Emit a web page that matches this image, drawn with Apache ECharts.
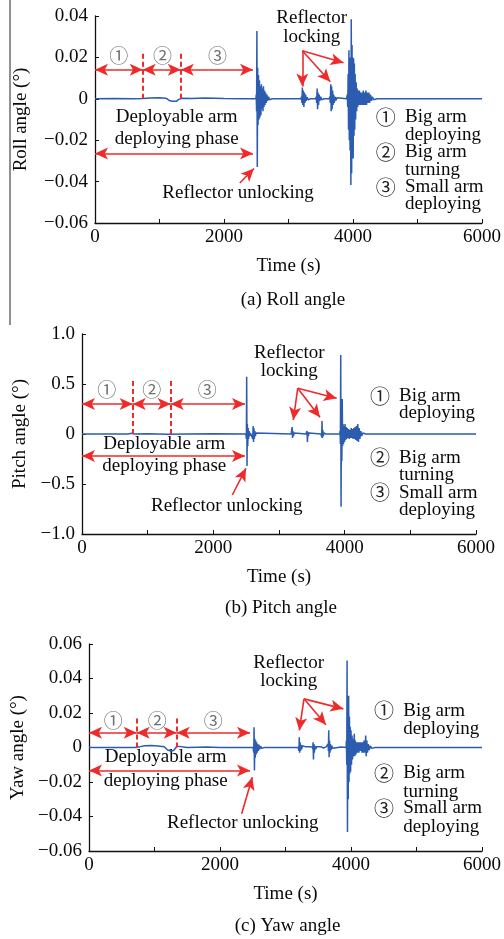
<!DOCTYPE html>
<html>
<head>
<meta charset="utf-8">
<script src="https://cdn.jsdelivr.net/npm/echarts@6/dist/echarts.min.js"></script>
<style>
  html, body { margin: 0; padding: 0; background: #fff; }
  #result { width: 504px; height: 939px; }
</style>
</head>
<body>
<div id="result"></div>
<script>
var myChart = echarts.init(document.getElementById('result'));

var FONT = '"Liberation Serif", "Times New Roman", serif';
var CIRCLE_FONT = '"Noto Sans CJK SC", "DejaVu Sans", sans-serif';
var BLUE = '#2c5cb0';
var RED = '#ee2a2a';

var timeTicks = [0, 2000, 4000, 6000];

// Roll angle (°) vs time (s)
var rollData = [
	[0, 0], [300, 0.0001], [600, 0], [750, 0.0001], [850, 0.0004], [1000, 0.0005], [1100, 0.0003],
	[1150, -0.0008], [1200, -0.0012], [1260, -0.0012], [1300, -0.0003], [1350, 0.0003], [1500, 0.0002],
	[1700, 0.0004], [1850, 0.0003], [2000, 0.0001], [2300, 0], [2495, 0],
	[2500, 0.002], [2505, -0.006], [2510, 0.0327], [2516, -0.033], [2522, 0.015], [2528, -0.0127],
	[2535, 0.0115], [2542, -0.01], [2549, 0.009], [2556, -0.009], [2564, 0.006], [2572, -0.008],
	[2580, 0.007], [2588, -0.005], [2596, 0.005], [2604, -0.006], [2612, 0.006], [2620, -0.004],
	[2628, 0.004], [2636, -0.003], [2645, 0.003], [2655, -0.002], [2665, 0.002], [2677, -0.001],
	[2690, 0.001], [2705, -0.0005], [2722, 0.0003], [2745, 0], [3000, 0], [3195, 0],
	[3200, 0.001], [3208, -0.002], [3215, 0.0055], [3222, -0.003], [3230, 0.004], [3238, -0.004],
	[3246, 0.003], [3255, -0.002], [3265, 0.002], [3275, -0.001], [3290, 0.0008], [3305, -0.0005],
	[3320, 0.0003], [3340, 0], [3420, 0],
	[3430, 0.001], [3437, -0.002], [3444, 0.005], [3451, -0.005], [3458, 0.003], [3466, -0.003],
	[3475, 0.002], [3485, -0.001], [3500, 0.001], [3515, -0.0005], [3530, 0.0003], [3550, 0], [3630, 0],
	[3640, 0.001], [3648, -0.002], [3655, 0.007], [3662, -0.006], [3669, 0.006], [3676, -0.005],
	[3684, 0.004], [3692, -0.003], [3700, 0.002], [3710, -0.002], [3722, 0.001], [3735, -0.0008],
	[3750, 0.0005], [3770, 0], [3900, 0],
	[3912, 0.002], [3918, -0.004], [3925, 0.012], [3931, -0.015], [3937, 0.0235], [3943, -0.02],
	[3949, 0.018], [3955, -0.025], [3961, 0.02], [3967, -0.0417], [3973, 0.0384], [3979, -0.036],
	[3985, 0.026], [3991, -0.028], [3997, 0.02], [4003, -0.0288], [4009, 0.0196], [4015, -0.018],
	[4021, 0.017], [4027, -0.015], [4033, 0.012], [4041, -0.01], [4049, 0.008], [4057, -0.006],
	[4065, 0.005], [4073, -0.004], [4081, 0.004], [4090, -0.003], [4100, 0.004], [4110, -0.003],
	[4120, 0.003], [4130, -0.003], [4140, 0.003], [4150, -0.003], [4160, 0.004], [4170, -0.003],
	[4180, 0.003], [4190, -0.003], [4200, 0.004], [4210, -0.003], [4220, 0.003], [4232, -0.002],
	[4245, 0.003], [4258, -0.002], [4270, 0.002], [4285, -0.001], [4300, 0.001], [4320, -0.0005],
	[4345, 0.0003], [4370, 0], [6000, 0]
];

// Pitch angle (°) vs time (s)
var pitchData = [
	[0, 0], [700, 0], [760, 0.008], [800, 0], [1000, 0.003], [1300, -0.003], [1600, 0], [2000, 0.002], [2495, 0],
	[2499, 0.02], [2503, -0.05], [2508, 0.573], [2513, -0.32], [2518, 0.1], [2524, -0.12], [2530, 0.06],
	[2537, -0.05], [2545, 0.03], [2553, -0.02], [2565, 0.01], [2580, 0], [2594, 0.02], [2600, -0.05],
	[2606, 0.08], [2612, -0.08], [2618, 0.06], [2624, -0.05], [2632, 0.03], [2640, -0.02], [2650, 0.01],
	[2665, -0.005], [2680, 0], [3185, 0],
	[3190, 0.01], [3195, -0.02], [3200, 0.07], [3206, -0.04], [3212, 0.03], [3220, -0.02], [3230, 0.01],
	[3245, -0.005], [3260, 0], [3410, 0],
	[3416, 0.01], [3421, -0.02], [3427, 0.03], [3433, -0.08], [3439, 0.02], [3446, -0.02], [3455, 0.01],
	[3470, -0.005], [3485, 0], [3640, 0],
	[3645, 0.01], [3650, -0.03], [3655, 0.13], [3661, -0.04], [3667, 0.04], [3674, -0.02], [3683, 0.01],
	[3697, -0.005], [3715, 0], [3925, 0],
	[3930, 0.03], [3935, -0.1], [3940, 0.79], [3945, -0.727], [3951, 0.2], [3957, -0.27], [3963, 0.35],
	[3969, -0.12], [3975, 0.1], [3982, -0.1], [3990, 0.08], [3998, -0.08], [4006, 0.1], [4014, -0.06],
	[4022, 0.07], [4030, -0.05], [4040, 0.06], [4050, -0.04], [4060, 0.05], [4070, -0.05], [4080, 0.04],
	[4090, -0.04], [4100, 0.06], [4110, -0.04], [4120, 0.05], [4130, -0.05], [4140, 0.06], [4150, -0.05],
	[4160, 0.07], [4170, -0.06], [4180, 0.08], [4190, -0.07], [4200, 0.1], [4210, -0.08], [4220, 0.06],
	[4232, -0.05], [4245, 0.03], [4260, -0.02], [4275, 0.01], [4295, -0.005], [4320, 0], [6000, 0]
];

// Yaw angle (°) vs time (s)
var yawData = [
	[0, 0], [700, 0], [780, 0.0005], [850, 0.001], [950, 0.0012], [1050, 0.0009], [1150, 0.0004],
	[1200, -0.0015], [1250, -0.002], [1290, -0.0018], [1320, -0.0005], [1340, 0.0008], [1360, 0],
	[1500, 0], [1800, 0.0003], [2000, 0], [2505, 0],
	[2510, 0.001], [2515, -0.003], [2520, 0.0118], [2526, -0.0133], [2532, 0.005], [2538, -0.006],
	[2545, 0.004], [2552, -0.004], [2560, 0.003], [2568, -0.003], [2576, 0.002], [2585, -0.002],
	[2595, 0.0015], [2606, -0.001], [2620, 0.0008], [2635, -0.0005], [2655, 0.0002], [2680, 0], [3195, 0],
	[3200, 0.001], [3205, -0.002], [3210, 0.006], [3216, -0.003], [3222, 0.003], [3229, -0.002],
	[3237, 0.0015], [3246, -0.001], [3258, 0.001], [3275, 0], [3300, 0.0005], [3330, -0.0004],
	[3360, 0.0005], [3390, 0], [3410, 0.0003],
	[3416, -0.001], [3421, 0.003], [3427, -0.007], [3433, 0.002], [3440, -0.003], [3448, 0.001],
	[3460, -0.001], [3475, 0.0005], [3500, 0], [3540, 0.0005], [3580, -0.0003], [3620, 0.0004], [3645, 0],
	[3650, 0.002], [3655, -0.002], [3660, 0.01], [3666, -0.0056], [3672, 0.004], [3679, -0.003],
	[3687, 0.002], [3696, -0.0015], [3708, 0.001], [3725, -0.0005], [3750, 0.0004], [3800, 0],
	[3850, 0.0003], [3925, 0],
	[3930, 0.004], [3935, -0.01], [3940, 0.0504], [3946, -0.049], [3952, 0.02], [3958, -0.03],
	[3964, 0.03], [3970, -0.02], [3976, 0.018], [3982, -0.015], [3988, 0.012], [3994, -0.014],
	[4000, 0.01], [4008, -0.01], [4016, 0.007], [4024, -0.007], [4032, 0.005], [4040, -0.005],
	[4050, 0.008], [4058, -0.005], [4066, 0.004], [4076, -0.004], [4086, 0.003], [4096, -0.003],
	[4108, 0.003], [4120, -0.003], [4132, 0.003], [4144, -0.002], [4156, 0.003], [4168, -0.003],
	[4180, 0.003], [4192, -0.003], [4200, 0.004], [4212, -0.003], [4224, 0.007], [4232, -0.005],
	[4242, 0.004], [4252, -0.003], [4264, 0.002], [4278, -0.0015], [4295, 0.001], [4315, -0.0005],
	[4340, 0.0002], [4370, 0], [6000, 0]
];

var phaseMarks = ['\u2460', '\u2461', '\u2462'];
var legendLines = [['Big arm', 'deploying'], ['Big arm', 'turning'], ['Small arm', 'deploying']];

var panels = [{
	grid: { left: 95, top: 16, width: 392, height: 207 },
	min: -0.06, max: 0.04, interval: 0.02, digits: 2,
	name: 'Roll angle (°)', nameGap: 64, caption: '(a) Roll angle', captionY: 300,
	data: rollData,
	arrowY: 0.014, bounds: [0, 740, 1330, 2450], dashTop: 0.022,
	markY: 0.0206, markX: [367, 1046, 1898],
	phaseY: -0.0264,
	unlock: [[2245, -0.0407], [2464, -0.0337]],
	lockFrom: [3214, 0.0232], lockTo: [[3214, 0.006], [3648, 0.0082], [3853, 0.0174]],
	deployText: [176.7, 116.7, 139], unlockText: [238, 193], lockText: [311.7, 18.3, 36.7],
	legend: { cx: 385.7, tx: 405, y: [117, 135, 152, 170, 187, 204] }
}, {
	grid: { left: 82, top: 334, width: 394, height: 200 },
	min: -1, max: 1, interval: 0.5, digits: 1,
	name: 'Pitch angle (°)', nameGap: 51, caption: '(b) Pitch angle', captionY: 608,
	data: pitchData,
	arrowY: 0.3, bounds: [0, 772, 1351, 2482], dashTop: 0.53,
	markY: 0.447, markX: [376, 1061, 1908],
	phaseY: -0.22,
	unlock: [[2289, -0.61], [2497, -0.343]],
	lockFrom: [3285, 0.457], lockTo: [[3218, 0.14], [3624, 0.167], [3878, 0.357]],
	deployText: [164.3, 444, 466], unlockText: [226.7, 506], lockText: [289.3, 352.7, 370.7],
	legend: { cx: 380, tx: 399, y: [396, 412.7, 457.7, 475, 492.7, 510] }
}, {
	grid: { left: 89, top: 644, width: 393, height: 207 },
	min: -0.06, max: 0.06, interval: 0.02, digits: 2,
	name: 'Yaw angle (°)', nameGap: 58, caption: '(c) Yaw angle', captionY: 926,
	data: yawData,
	arrowY: 0.0085, bounds: [0, 728, 1339, 2458], dashTop: 0.0172,
	markY: 0.0157, markX: [371, 1043, 1898],
	phaseY: -0.0133,
	unlock: [[2331, -0.0384], [2493, -0.0172]],
	lockFrom: [3282, 0.0282], lockTo: [[3211, 0.0099], [3618, 0.0132], [3883, 0.0224]],
	deployText: [165.7, 757.3, 780.7], unlockText: [242.7, 823.3], lockText: [288.7, 662.7, 681],
	legend: { cx: 384, tx: 403.3, y: [710.7, 729, 773.3, 791.7, 808.3, 826.7] }
}];

function fmtY(digits) {
	return function (v) {
		if (Math.abs(v) < 1e-9) return '0';
		return v.toFixed(digits).replace('-', '\u2212');
	};
}

var grids = [], xAxes = [], yAxes = [], series = [], graphics = [];

function txt(x, y, s, align) {
	graphics.push({
		type: 'text',
		style: {
			x: x, y: y, text: s, fill: '#0a0a0a',
			font: '19px ' + FONT,
			textAlign: align || 'center', textVerticalAlign: 'middle'
		}
	});
}

panels.forEach(function (p, i) {
	grids.push(p.grid);
	xAxes.push({
		type: 'value', gridIndex: i, min: 0, max: 6000, interval: 1000,
		name: 'Time (s)', nameLocation: 'middle', nameGap: 34,
		nameTextStyle: { fontFamily: FONT, fontSize: 19, color: '#0a0a0a' },
		axisLine: { onZero: false, lineStyle: { color: '#111', width: 1.3 } },
		axisTick: { inside: true, length: 4, lineStyle: { color: '#111' } },
		axisLabel: {
			fontFamily: FONT, fontSize: 19, color: '#0a0a0a', margin: 5,
			formatter: function (v) { return timeTicks.indexOf(v) >= 0 ? String(v) : ''; }
		},
		splitLine: { show: false }
	});
	yAxes.push({
		type: 'value', gridIndex: i, min: p.min, max: p.max, interval: p.interval,
		name: p.name, nameLocation: 'middle', nameGap: p.nameGap,
		nameTextStyle: { fontFamily: FONT, fontSize: 19, color: '#0a0a0a' },
		axisLine: { show: true, lineStyle: { color: '#111', width: 1.3 } },
		axisTick: { show: true, inside: true, length: 4, lineStyle: { color: '#111' } },
		axisLabel: { fontFamily: FONT, fontSize: 19, color: '#0a0a0a', margin: 7, formatter: fmtY(p.digits) },
		splitLine: { show: false }
	});

	var lines = [];
	for (var k = 0; k < 3; k++) {
		lines.push([{ coord: [p.bounds[k], p.arrowY] }, { coord: [p.bounds[k + 1], p.arrowY] }]);
	}
	lines.push([{ coord: [0, p.phaseY] }, { coord: [p.bounds[3], p.phaseY] }]);

	var oneWay = [[{ coord: p.unlock[0] }, { coord: p.unlock[1] }]];
	p.lockTo.forEach(function (c) {
		oneWay.push([{ coord: p.lockFrom }, { coord: c }]);
	});

	var dashes = [1, 2].map(function (k) {
		return [{ coord: [p.bounds[k], 0] }, { coord: [p.bounds[k], p.dashTop] }];
	});

	series.push({
		type: 'line', xAxisIndex: i, yAxisIndex: i,
		data: p.data, showSymbol: false, silent: true,
		lineStyle: { color: BLUE, width: 1.5 },
		markPoint: {
			symbol: 'rect', symbolSize: 1, silent: true,
			itemStyle: { color: 'rgba(0,0,0,0)' },
			label: { show: true, position: 'inside', color: '#707070', fontSize: 19, fontFamily: CIRCLE_FONT,
				formatter: function (d) { return d.name; } },
			data: p.markX.map(function (x, k) { return { name: phaseMarks[k], coord: [x, p.markY] }; })
		}
	});
	series.push({
		type: 'line', xAxisIndex: i, yAxisIndex: i, data: [], silent: true,
		markLine: {
			silent: true, symbol: ['arrow', 'arrow'], symbolSize: [9, 13],
			label: { show: false },
			lineStyle: { color: RED, width: 1.6, type: 'solid' },
			data: lines
		}
	});
	series.push({
		type: 'line', xAxisIndex: i, yAxisIndex: i, data: [], silent: true,
		markLine: {
			silent: true, symbol: ['none', 'arrow'], symbolSize: [9, 13],
			label: { show: false },
			lineStyle: { color: RED, width: 1.6, type: 'solid' },
			data: oneWay
		}
	});
	series.push({
		type: 'line', xAxisIndex: i, yAxisIndex: i, data: [], silent: true,
		markLine: {
			silent: true, symbol: ['none', 'none'],
			label: { show: false },
			lineStyle: { color: RED, width: 2, type: [5, 3] },
			data: dashes
		}
	});

	txt(p.deployText[0], p.deployText[1], 'Deployable arm');
	txt(p.deployText[0], p.deployText[2], 'deploying phase');
	txt(p.unlockText[0], p.unlockText[1], 'Reflector unlocking');
	txt(p.lockText[0], p.lockText[1], 'Reflector');
	txt(p.lockText[0], p.lockText[2], 'locking');
	for (var m = 0; m < 3; m++) {
		graphics.push({
			type: 'text',
			style: {
				x: p.legend.cx, y: p.legend.y[m * 2], text: phaseMarks[m], fill: '#222',
				font: '20px ' + CIRCLE_FONT, textAlign: 'center', textVerticalAlign: 'middle'
			}
		});
		txt(p.legend.tx, p.legend.y[m * 2], legendLines[m][0], 'left');
		txt(p.legend.tx, p.legend.y[m * 2 + 1], legendLines[m][1], 'left');
	}
	txt(p.grid.left + p.grid.width / 2 + 2, p.captionY, p.caption);
});

// left border fragment visible in the source scan
graphics.push({
	type: 'line', shape: { x1: 10, y1: 0, x2: 10, y2: 325 },
	style: { stroke: '#222', lineWidth: 1 }
});

var option = {
	animation: false,
	backgroundColor: '#fff',
	grid: grids,
	xAxis: xAxes,
	yAxis: yAxes,
	series: series,
	graphic: graphics
};

myChart.setOption(option);
</script>
</body>
</html>
